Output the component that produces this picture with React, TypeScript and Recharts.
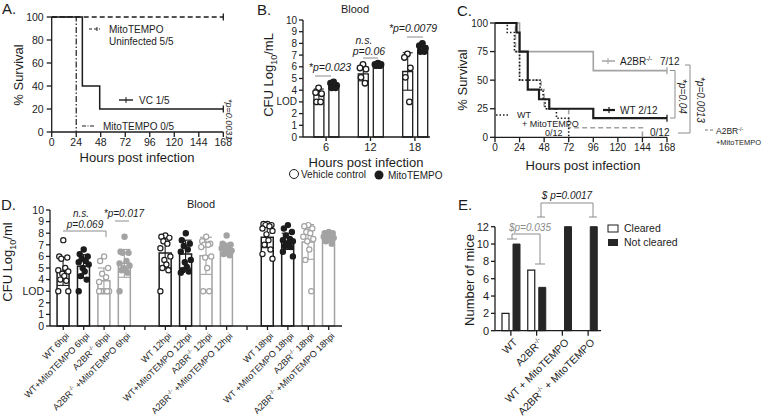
import React from "react";
import {
  LineChart, Line, ComposedChart, BarChart, Bar, Scatter, ErrorBar, Cell, XAxis, YAxis,
} from "recharts";

// recharts no lee variables CSS — colores fijos
const FONT = "'Liberation Sans', Arial, Helvetica, sans-serif";
const INK = "#1c1c1c";
const GREY = "#a3a3a3";
const BRACKET = "#8c8c8c";
const DARK = "#262626";

// ── A: supervivencia MitoTEMPO / vehículo ─────────────────────────────────────
const A_X_TICKS = [0, 24, 48, 72, 96, 120, 144, 168];
const A_Y_TICKS = [0, 20, 40, 60, 80, 100];
const A_UNINFECTED = [{ t: 0, s: 100 }, { t: 168, s: 100, c: 1 }];
const A_VC = [{ t: 0, s: 100 }, { t: 30, s: 40 }, { t: 47, s: 20 }, { t: 168, s: 20, c: 1 }];
const A_MITO = [{ t: 0, s: 100 }, { t: 24, s: 0 }];

// ── B: CFU en sangre ──────────────────────────────────────────────────────────
const B_GROUPS = ["6", "12", "18"];
const B_VC_MEAN = [3.6, 5.4, 5.6];
const B_VC_SD = [0.5, 0.6, 1.6];
const B_MT_MEAN = [4.4, 6.2, 7.5];
const B_MT_SD = [0.2, 0.1, 0.3];
const B_VC_PTS = [[4.2, 3.8, 3.7, 3.0, 3.0], [6.2, 5.9, 5.8, 5.1, 4.6], [7.1, 6.8, 5.9, 5.1, 3.0]];
const B_MT_PTS = [[4.7, 4.6, 4.4, 4.2, 4.2], [6.3, 6.2, 6.2, 6.1, 6.1], [8.0, 7.8, 7.6, 7.3, 7.3]];

// ── C: supervivencia WT / A2BR ────────────────────────────────────────────────
const C_X_TICKS = [0, 24, 48, 72, 96, 120, 144, 168];
const C_Y_TICKS = [0, 25, 50, 75, 100];
const C_A2BR = [{ t: 0, s: 100 }, { t: 24, s: 75 }, { t: 96, s: 58.3 }, { t: 168, s: 58.3, c: 1 }];
const C_WT = [
  { t: 0, s: 100 }, { t: 21, s: 91.7 }, { t: 24, s: 75 }, { t: 32, s: 41.7 }, { t: 43, s: 33.3 },
  { t: 53, s: 25 }, { t: 96, s: 16.7 }, { t: 168, s: 16.7, c: 1 },
];
const C_WT_MITO = [
  { t: 0, s: 100 }, { t: 12, s: 91.7 }, { t: 19, s: 75 }, { t: 24, s: 50 }, { t: 44, s: 41.7 },
  { t: 47, s: 33.3 }, { t: 49, s: 25 }, { t: 60, s: 16.7 }, { t: 72, s: 0 },
];
const C_A2BR_MITO = [
  { t: 0, s: 100 }, { t: 20, s: 75 }, { t: 24, s: 50 }, { t: 45, s: 41.7 }, { t: 48, s: 25 },
  { t: 72, s: 8.3 }, { t: 144, s: 0 },
];

// ── D: CFU en sangre por genotipo ─────────────────────────────────────────────
const D_LABELS = [
  "WT 6hpi", "WT+MitoTEMPO 6hpi", "A2BR-/- 6hpi", "A2BR-/- +MitoTEMPO 6hpi", "",
  "WT 12hpi", "WT+MitoTEMPO 12hpi", "A2BR-/- 12hpi", "A2BR-/- +MitoTEMPO 12hpi", "",
  "WT 18hpi", "WT +MitoTEMPO 18hpi", "A2BR-/- 18hpi", "A2BR-/- +MitoTEMPO 18hpi",
];
const D_KIND = ["wt", "wtm", "ko", "kom", "", "wt", "wtm", "ko", "kom", "", "wt", "wtm", "ko", "kom"];
const D_MEAN = [4.7, 5.15, 3.9, 5.4, null, 6.3, 6.2, 6.05, 6.65, null, 7.65, 7.3, 7.25, 7.6];
const D_SD = [1.2, 1.0, 1.1, 1.2, null, 1.3, 1.2, 1.6, 0.5, null, 0.9, 0.7, 1.5, 0.3];
const D_POINTS = [
  [7.4, 6.0, 5.9, 5.8, 5.0, 4.8, 4.7, 4.5, 4.3, 4.0, 3.9, 3.0, 3.0],
  [6.6, 6.2, 6.0, 5.8, 5.6, 5.5, 5.3, 5.0, 4.7, 4.3, 4.0, 3.0],
  [6.0, 5.6, 5.0, 4.5, 4.2, 3.8, 3.0, 3.0, 3.0, 3.0, 3.0, 3.0],
  [7.7, 6.4, 6.3, 6.3, 5.6, 5.4, 5.2, 5.0, 4.9, 4.8, 4.6, 3.0],
  [],
  [7.8, 7.7, 7.6, 7.3, 7.1, 6.7, 6.0, 5.7, 5.3, 5.0, 4.8, 3.0],
  [8.0, 7.4, 7.1, 6.9, 6.6, 6.4, 5.7, 5.5, 5.1, 4.8, 4.7, 4.6],
  [7.7, 7.3, 7.1, 7.0, 7.0, 6.8, 6.0, 5.9, 5.0, 3.0, 3.0],
  [7.8, 7.1, 7.0, 6.9, 6.8, 6.7, 6.5, 6.4, 6.3, 6.2, 6.1],
  [],
  [8.8, 8.8, 8.7, 8.7, 8.6, 8.4, 8.2, 7.9, 7.4, 7.0, 6.6, 6.2, 5.8],
  [8.7, 8.4, 8.1, 7.8, 7.5, 7.4, 7.3, 7.1, 7.0, 6.9, 6.8, 6.4, 6.0],
  [8.7, 8.6, 8.4, 8.1, 8.0, 7.7, 7.5, 7.3, 6.6, 5.7, 3.0],
  [8.1, 8.0, 8.0, 7.9, 7.8, 7.7, 7.6, 7.5, 7.4, 7.3, 7.1],
];

// ── E: aclaramiento ───────────────────────────────────────────────────────────
const E_GROUPS = ["WT", "A2BR-/-", "WT + MitoTEMPO", "A2BR-/- + MitoTEMPO"];
const E_CLEARED = [2, 7, 0, 0];
const E_NOT_CLEARED = [10, 5, 12, 12];

// desplazamiento horizontal de los puntos (sólo maquetación)
const JITTER = [0, -4, 4, -2, 2, -5, 5, -1, 1, -3, 3, -5, 5];
const B_JITTER = [0, -3, 3, -2, 2];

const tickText = (size: number) => ({ fill: INK, fontSize: size, fontFamily: FONT });
const lodFormat = (v: number) => (v === 3 ? "LOD" : String(v));

function Sup({ s, size }: { s: string; size: number }) {
  const parts = s.split("-/-");
  if (parts.length === 1) return <>{s}</>;
  return (
    <>
      {parts[0]}
      <tspan dy={-size * 0.4} fontSize={size * 0.65}>-/-</tspan>
      <tspan dy={size * 0.4}>{parts[1]}</tspan>
    </>
  );
}

const censorDot = (p: any) =>
  p.payload && p.payload.c ? (
    <line key={p.index} x1={p.cx} x2={p.cx} y1={p.cy - 3.5} y2={p.cy + 3.5} stroke={p.stroke} strokeWidth={1.3} />
  ) : (
    <g key={p.index} />
  );

// ── Panel A ───────────────────────────────────────────────────────────────────
function PanelA() {
  return (
    <div style={{ position: "absolute", left: 0, top: 0 }}>
      <LineChart width={240} height={180} margin={{ top: 17, right: 16.7, bottom: 28, left: 11.7 }}>
        <XAxis type="number" dataKey="t" domain={[0, 168]} ticks={A_X_TICKS} height={20} interval={0}
          stroke={INK} strokeWidth={1.3} tickSize={5} tickMargin={2} tick={tickText(10.5)} />
        <YAxis type="number" domain={[0, 100]} ticks={A_Y_TICKS} width={40} interval={0}
          stroke={INK} strokeWidth={1.3} tickSize={5} tickMargin={3} tick={tickText(10.5)} />
        <Line data={A_UNINFECTED} dataKey="s" type="stepAfter" stroke={INK} strokeWidth={1.3}
          strokeDasharray="5 3" dot={censorDot} isAnimationActive={false} />
        <Line data={A_MITO} dataKey="s" type="stepAfter" stroke={INK} strokeWidth={1.2}
          strokeDasharray="6 2 1.5 2" dot={false} isAnimationActive={false} />
        <Line data={A_VC} dataKey="s" type="stepAfter" stroke={INK} strokeWidth={1.5}
          dot={censorDot} isAnimationActive={false} />
      </LineChart>
    </div>
  );
}

// ── Panel B ───────────────────────────────────────────────────────────────────
function PanelB() {
  const rows = B_GROUPS.map((_, i) => ({
    x: i, vc: B_VC_MEAN[i], vcSd: B_VC_SD[i], mt: B_MT_MEAN[i], mtSd: B_MT_SD[i],
  }));
  const vcPts = B_VC_PTS.flatMap((vals, g) => vals.map((v, j) => ({ x: g, v, j })));
  const mtPts = B_MT_PTS.flatMap((vals, g) => vals.map((v, j) => ({ x: g, v, j })));
  const dot = (fill: string, shift: number) => (p: any) => (
    <circle cx={p.cx + shift + B_JITTER[p.payload.j % B_JITTER.length]} cy={p.cy} r={2.8}
      fill={fill} stroke={INK} strokeWidth={1.3} />
  );
  return (
    <div style={{ position: "absolute", left: 250, top: 0 }}>
      <ComposedChart width={190} height={185} data={rows} barSize={10} barGap={5}
        margin={{ top: 20, right: 10, bottom: 28, left: 13 }}>
        <XAxis type="number" dataKey="x" domain={[-0.52, 2.34]} ticks={[0, 1, 2]} height={20} interval={0}
          tickFormatter={(v: number) => B_GROUPS[v]} stroke={INK} strokeWidth={1.3}
          tickSize={4} tickMargin={2} tick={tickText(11)} />
        <YAxis type="number" domain={[0, 10]} ticks={[0, 1, 2, 3, 4, 5, 6, 7, 8, 9, 10]} width={40}
          interval={0} tickFormatter={lodFormat} stroke={INK} strokeWidth={1.3} tickSize={4} tickMargin={2}
          tick={tickText(10)} />
        <Bar dataKey="vc" fill="#fff" stroke={INK} strokeWidth={1.3} isAnimationActive={false}>
          <ErrorBar dataKey="vcSd" width={5} stroke={INK} strokeWidth={1.1} />
        </Bar>
        <Bar dataKey="mt" fill="#fff" stroke={INK} strokeWidth={1.3} isAnimationActive={false}>
          <ErrorBar dataKey="mtSd" width={5} stroke={INK} strokeWidth={1.1} />
        </Bar>
        <Scatter data={vcPts} dataKey="v" shape={dot("#fff", -7.5)} isAnimationActive={false} />
        <Scatter data={mtPts} dataKey="v" shape={dot(INK, 7.5)} isAnimationActive={false} />
      </ComposedChart>
    </div>
  );
}

// ── Panel C ───────────────────────────────────────────────────────────────────
function PanelC() {
  return (
    <div style={{ position: "absolute", left: 455, top: 0 }}>
      <LineChart width={230} height={180} margin={{ top: 23, right: 18, bottom: 22.7, left: 10 }}>
        <XAxis type="number" dataKey="t" domain={[0, 168]} ticks={C_X_TICKS} height={20} interval={0}
          stroke={INK} strokeWidth={1.3} tickSize={5} tickMargin={2} tick={tickText(10)} />
        <YAxis type="number" domain={[0, 100]} ticks={C_Y_TICKS} width={30} interval={0}
          stroke={INK} strokeWidth={1.3} tickSize={5} tickMargin={2} tick={tickText(10)} />
        <Line data={C_A2BR} dataKey="s" type="stepAfter" stroke={GREY} strokeWidth={1.6}
          dot={censorDot} isAnimationActive={false} />
        <Line data={C_A2BR_MITO} dataKey="s" type="stepAfter" stroke={GREY} strokeWidth={1.6}
          strokeDasharray="5 3" dot={false} isAnimationActive={false} />
        <Line data={C_WT_MITO} dataKey="s" type="stepAfter" stroke={INK} strokeWidth={1.6}
          strokeDasharray="1.5 2" dot={false} isAnimationActive={false} />
        <Line data={C_WT} dataKey="s" type="stepAfter" stroke={INK} strokeWidth={2.2}
          dot={censorDot} isAnimationActive={false} />
      </LineChart>
    </div>
  );
}

// ── Panel D ───────────────────────────────────────────────────────────────────
const isGrey = (k: string) => k === "ko" || k === "kom";

function DTick({ x, y, payload }: any) {
  const label = D_LABELS[payload.value] || "";
  return (
    <g transform={`translate(${x + 2},${y})`}>
      <text transform="rotate(-45)" textAnchor="end" dy="0.7em" fontSize={9} fontFamily={FONT} fill={INK}>
        <Sup s={label} size={9} />
      </text>
    </g>
  );
}

function PanelD() {
  const rows = D_MEAN.map((m, i) => ({
    x: i,
    mean: m,
    sdK: !isGrey(D_KIND[i]) ? D_SD[i] : undefined,
    sdG: isGrey(D_KIND[i]) ? D_SD[i] : undefined,
    kind: D_KIND[i],
  })).filter((r) => r.mean != null);
  const pts = (kind: string) =>
    D_POINTS.flatMap((vals, slot) => (D_KIND[slot] === kind ? vals.map((v, j) => ({ x: slot, v, j })) : []));
  const dot = (fill: string, stroke: string) => (p: any) => (
    <circle cx={p.cx + JITTER[p.payload.j % JITTER.length]} cy={p.cy} r={2.6}
      fill={fill} stroke={stroke} strokeWidth={1.2} />
  );
  return (
    <div style={{ position: "absolute", left: 0, top: 195 }}>
      <ComposedChart width={350} height={221} data={rows} barSize={12}
        margin={{ top: 15, right: 8, bottom: 2, left: 20 }}>
        <XAxis type="number" dataKey="x" domain={[-0.65, 13.65]} ticks={D_LABELS.map((_, i) => i)}
          height={88} interval={0} stroke={INK} strokeWidth={1.3} tickSize={4} tickMargin={2} tick={<DTick />} />
        <YAxis type="number" domain={[0, 10]} ticks={[0, 1, 2, 3, 4, 5, 6, 7, 8, 9, 10]} width={30}
          interval={0} tickFormatter={lodFormat} stroke={INK} strokeWidth={1.3} tickSize={4} tickMargin={2}
          tick={tickText(10.5)} />
        <Bar dataKey="mean" fill="#fff" strokeWidth={1.5} isAnimationActive={false}>
          {rows.map((r) => (
            <Cell key={r.x} stroke={isGrey(r.kind) ? GREY : INK} />
          ))}
          <ErrorBar dataKey="sdK" width={6} stroke={INK} strokeWidth={1.1} />
          <ErrorBar dataKey="sdG" width={6} stroke={GREY} strokeWidth={1.1} />
        </Bar>
        <Scatter data={pts("wt")} dataKey="v" shape={dot("#fff", INK)} isAnimationActive={false} />
        <Scatter data={pts("wtm")} dataKey="v" shape={dot(INK, INK)} isAnimationActive={false} />
        <Scatter data={pts("ko")} dataKey="v" shape={dot("#fff", GREY)} isAnimationActive={false} />
        <Scatter data={pts("kom")} dataKey="v" shape={dot(GREY, GREY)} isAnimationActive={false} />
      </ComposedChart>
    </div>
  );
}

// ── Panel E ───────────────────────────────────────────────────────────────────
function ETick({ x, y, payload }: any) {
  return (
    <g transform={`translate(${x + 2},${y})`}>
      <text transform="rotate(-45)" textAnchor="end" dy="0.7em" fontSize={10.5} fontFamily={FONT} fill={INK}>
        <Sup s={String(payload.value)} size={10.5} />
      </text>
    </g>
  );
}

function PanelE() {
  const rows = E_GROUPS.map((name, i) => ({ name, cleared: E_CLEARED[i], notCleared: E_NOT_CLEARED[i] }));
  return (
    <div style={{ position: "absolute", left: 455, top: 195 }}>
      <BarChart width={160} height={221} data={rows} barSize={7} barGap={4}
        margin={{ top: 31.7, right: 14, bottom: 5.3, left: 15 }}>
        <XAxis dataKey="name" height={80} interval={0} padding={{ left: 3, right: 0 }}
          stroke={INK} strokeWidth={1.3} tickSize={5} tickMargin={2} tick={<ETick />} />
        <YAxis type="number" domain={[0, 12]} ticks={[0, 2, 4, 6, 8, 10, 12]} width={25} interval={0}
          stroke={INK} strokeWidth={1.3} tickSize={4} tickMargin={2} tick={tickText(11)} />
        <Bar dataKey="cleared" fill="#fff" stroke={INK} strokeWidth={1.2} isAnimationActive={false} />
        <Bar dataKey="notCleared" fill={DARK} stroke={DARK} strokeWidth={1} isAnimationActive={false} />
      </BarChart>
    </div>
  );
}

// ── Textos, leyendas y p-valores ──────────────────────────────────────────────
function Overlay() {
  const t = { fontFamily: FONT, fill: INK };
  const it = { ...t, fontStyle: "italic" as const };
  return (
    <svg width={763} height={416} style={{ position: "absolute", left: 0, top: 0, pointerEvents: "none" }}>
      {/* letras de panel */}
      <text x={2} y={14} fontSize={15} {...t}>A.</text>
      <text x={257} y={15} fontSize={15} {...t}>B.</text>
      <text x={457} y={16} fontSize={15} {...t}>C.</text>
      <text x={1} y={210} fontSize={15} {...t}>D.</text>
      <text x={458} y={210} fontSize={15} {...t}>E.</text>

      {/* A */}
      <text transform="translate(23,75) rotate(-90)" textAnchor="middle" fontSize={13} {...t}>% Survival</text>
      <text x={137} y={162} textAnchor="middle" fontSize={13} {...t}>Hours post infection</text>
      <line x1={89} x2={100} y1={29} y2={29} stroke={INK} strokeWidth={1.2} strokeDasharray="3 2" />
      <line x1={97} x2={97} y1={27} y2={31} stroke={INK} strokeWidth={1} />
      <text x={109} y={33} fontSize={10} {...t}>MitoTEMPO</text>
      <text x={109} y={45} fontSize={10} {...t}>Uninfected 5/5</text>
      <line x1={119} x2={133} y1={100} y2={100} stroke={INK} strokeWidth={1.4} />
      <line x1={126} x2={126} y1={97} y2={103} stroke={INK} strokeWidth={1} />
      <text x={139} y={104} fontSize={10} {...t}>VC  1/5</text>
      <line x1={82} x2={95} y1={126} y2={126} stroke={INK} strokeWidth={1.2} strokeDasharray="4 1.5 1 1.5" />
      <text x={103} y={130} fontSize={10} {...t}>MitoTEMPO 0/5</text>
      <text transform="translate(226,99) rotate(90)" fontSize={9} {...it}>*p=0.0031</text>

      {/* B */}
      <text x={355} y={13} textAnchor="middle" fontSize={11} {...t}>Blood</text>
      <text transform="translate(273,75) rotate(-90)" textAnchor="middle" fontSize={13} {...t}>
        CFU Log<tspan fontSize={9} dy={4}>10</tspan><tspan dy={-4}>/mL</tspan>
      </text>
      <text x={366} y={167} textAnchor="middle" fontSize={13} {...t}>Hours post infection</text>
      <circle cx={294} cy={174} r={4.5} fill="#fff" stroke={INK} strokeWidth={1} />
      <text x={301} y={178} fontSize={10} {...t}>Vehicle control</text>
      <circle cx={379} cy={175} r={4.5} fill={INK} />
      <text x={388} y={179} fontSize={10} {...t}>MitoTEMPO</text>
      <text x={330} y={71} textAnchor="middle" fontSize={10.5} {...it}>*p=0.023</text>
      <line x1={315} x2={331} y1={76} y2={76} stroke={BRACKET} strokeWidth={1} />
      <text x={364} y={44} textAnchor="middle" fontSize={10.5} {...it}>n.s.</text>
      <text x={369} y={55} textAnchor="middle" fontSize={10.5} {...it}>p=0.06</text>
      <line x1={363} x2={378} y1={58} y2={58} stroke={BRACKET} strokeWidth={1} />
      <text x={413} y={32} textAnchor="middle" fontSize={10.5} {...it}>*p=0.0079</text>
      <line x1={407} x2={423} y1={37} y2={37} stroke={BRACKET} strokeWidth={1} />

      {/* C */}
      <text transform="translate(467,80) rotate(-90)" textAnchor="middle" fontSize={13} {...t}>% Survival</text>
      <text x={583} y={170} textAnchor="middle" fontSize={13} {...t}>Hours post infection</text>
      <line x1={602} x2={615} y1={61} y2={61} stroke={GREY} strokeWidth={1.5} />
      <line x1={608} x2={608} y1={58} y2={64} stroke={GREY} strokeWidth={1} />
      <text x={620} y={65} fontSize={10} {...t}><Sup s="A2BR-/-" size={10} /></text>
      <text x={660} y={65} fontSize={10} {...t}>7/12</text>
      <line x1={603} x2={615} y1={110} y2={110} stroke={INK} strokeWidth={2.2} />
      <line x1={609} x2={609} y1={107} y2={113} stroke={INK} strokeWidth={1.2} />
      <text x={620} y={114} fontSize={10} {...t}>WT  2/12</text>
      <line x1={496} x2={510} y1={115} y2={115} stroke={INK} strokeWidth={1.5} strokeDasharray="1.5 2" />
      <text x={517} y={117.5} fontSize={9} {...t}>WT</text>
      <text x={522} y={126.5} fontSize={9} {...t}>+ MitoTEMPO</text>
      <text x={545} y={135.5} fontSize={9} {...t}>0/12</text>
      <text x={650} y={135.5} fontSize={10} {...t}>0/12</text>
      <path d="M670,70.5 H675 V118 H670" fill="none" stroke={BRACKET} strokeWidth={1} />
      <text transform="translate(679,79) rotate(90)" fontSize={10} {...it}>*p=0.04</text>
      <path d="M685,65 H690 V133 H678" fill="none" stroke={BRACKET} strokeWidth={1} />
      <text transform="translate(697,77) rotate(90)" fontSize={10} {...it}>*p=0.0013</text>
      <line x1={705} x2={713} y1={130} y2={130} stroke={GREY} strokeWidth={1.4} strokeDasharray="3 2" />
      <text x={716} y={134} fontSize={8.5} {...t}><Sup s="A2BR-/-" size={8.5} /></text>
      <text x={716} y={145} fontSize={8} textLength={45} lengthAdjust="spacingAndGlyphs" {...t}>+MitoTEMPO</text>

      {/* D */}
      <text x={201} y={208} textAnchor="middle" fontSize={11} {...t}>Blood</text>
      <text transform="translate(12,262) rotate(-90)" textAnchor="middle" fontSize={13} {...t}>
        CFU Log<tspan fontSize={9} dy={4}>10</tspan><tspan dy={-4}>/ml</tspan>
      </text>
      <text x={81} y={217} textAnchor="middle" fontSize={10} {...it}>n.s.</text>
      <text x={85} y={228} textAnchor="middle" fontSize={10} {...it}>p=0.069</text>
      <path d="M63,231 H106 V237" fill="none" stroke={BRACKET} strokeWidth={1} />
      <text x={124} y={217} textAnchor="middle" fontSize={10} {...it}>*p=0.017</text>
      <line x1={115} x2={129} y1={221} y2={221} stroke={BRACKET} strokeWidth={1} />

      {/* E */}
      <text transform="translate(474,280) rotate(-90)" textAnchor="middle" fontSize={13} {...t}>Number of mice</text>
      <rect x={608} y={225} width={10} height={7} fill="#fff" stroke={INK} strokeWidth={1} />
      <text x={624} y={232} fontSize={10.5} {...t}>Cleared</text>
      <rect x={608} y={239} width={10} height={7} fill={DARK} />
      <text x={624} y={246} fontSize={10.5} {...t}>Not cleared</text>
      <text x={530} y={231} textAnchor="middle" fontSize={10} fill={BRACKET} fontFamily={FONT} fontStyle="italic">$p=0.035</text>
      <path d="M512,239 V234 H540 V264" fill="none" stroke={BRACKET} strokeWidth={1} />
      <line x1={507} x2={517} y1={239} y2={239} stroke={BRACKET} strokeWidth={1} />
      <line x1={535} x2={545} y1={264} y2={264} stroke={BRACKET} strokeWidth={1} />
      <text x={567} y={199} textAnchor="middle" fontSize={10} {...it}>$ p=0.0017</text>
      <path d="M541,217 V203 H593 V217" fill="none" stroke={BRACKET} strokeWidth={1} />
      <line x1={537} x2={545} y1={217} y2={217} stroke={BRACKET} strokeWidth={1} />
      <line x1={589} x2={597} y1={217} y2={217} stroke={BRACKET} strokeWidth={1} />
    </svg>
  );
}

export default function App() {
  return (
    <div style={{ position: "absolute", left: 0, top: 0, width: 763, height: 416, background: "#fff", fontFamily: FONT, overflow: "hidden" }}>
      <PanelA />
      <PanelB />
      <PanelC />
      <PanelD />
      <PanelE />
      <Overlay />
    </div>
  );
}
